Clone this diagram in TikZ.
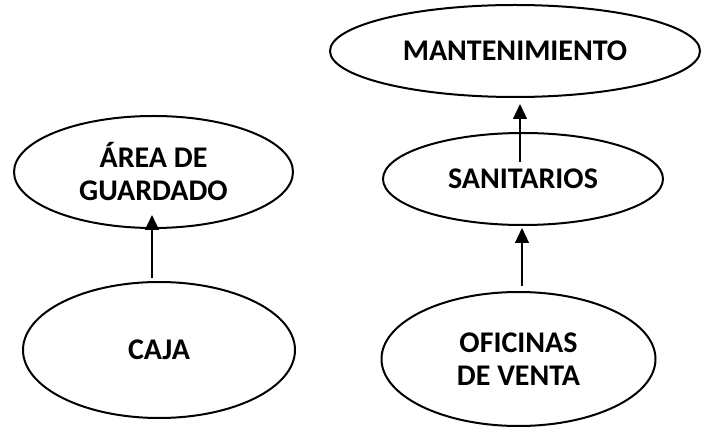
\documentclass[tikz,border=0pt]{standalone}
\usepackage{fontspec}
\setmainfont{Carlito}
\usetikzlibrary{shapes.geometric,arrows.meta}
\tikzset{
  oval/.style={ellipse, draw=black, line width=2pt, fill=white, inner sep=0pt,
    font=\fontsize{30}{33}\selectfont\bfseries, align=center},
  arr/.style={line width=1.2pt, -{Triangle[length=15pt,width=14pt]}}
}
\begin{document}
\begin{tikzpicture}[x=1pt,y=-1pt]
\useasboundingbox (0,0) rectangle (709,427);
\node[oval, minimum width=370pt, minimum height=92pt] (mant) at (515,51) {MANTENIMIENTO};
\node[oval, minimum width=280pt, minimum height=92pt] (san) at (523,179) {SANITARIOS};
\node[oval, minimum width=274pt, minimum height=134pt] (ofi) at (518.5,359) {OFICINAS\\DE VENTA};
\node[oval, minimum width=279pt, minimum height=112pt] (area) at (153.5,172) {ÁREA DE\\GUARDADO};
\node[oval, minimum width=272pt, minimum height=136pt] (caja) at (159,350) {CAJA};
\draw[arr] ([xshift=-7pt,yshift=3pt]caja.north) -- ([xshift=-1.5pt,yshift=14pt]area.south);
\draw[arr] ([xshift=-3pt,yshift=-30pt]san.north) -- ([xshift=5pt,yshift=-6pt]mant.south);
\draw[arr] ([xshift=3.5pt,yshift=5pt]ofi.north) -- ([xshift=-1pt,yshift=-2pt]san.south);
\end{tikzpicture}
\end{document}
